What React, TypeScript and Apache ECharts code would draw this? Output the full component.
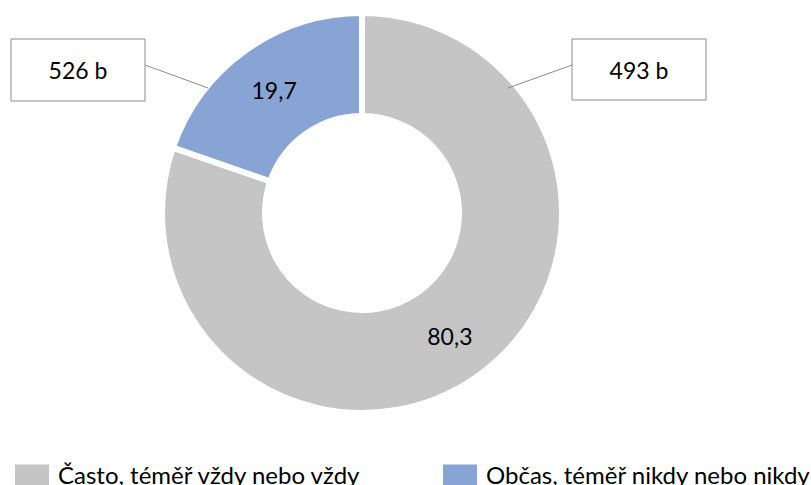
import React, { useEffect, useRef } from "react";
import * as echarts from "echarts";

const categories = ["Často, téměř vždy nebo vždy", "Občas, téměř nikdy nebo nikdy"];
const values = [80.3, 19.7];
const calloutTexts = ["493 b", "526 b"];
const colors = ["#C5C5C5", "#87A4D5"];

const FONT = "Lato, 'Open Sans', sans-serif";

export default function App() {
  const ref = useRef<HTMLDivElement>(null);
  useEffect(() => {
    if (!ref.current) return;
    const chart = echarts.init(ref.current, undefined, { renderer: "svg" });
    const fmt = (v: number) => String(v).replace(".", ",");
    const box = (x: number, y: number, w: number, h: number, text: string) => [
      {
        type: "rect",
        shape: { x, y, width: w, height: h },
        style: { fill: "#fff", stroke: "#8a8a8a", lineWidth: 1 },
        z: 10,
      },
      {
        type: "text",
        x: x + w / 2,
        y: y + h / 2,
        style: {
          text,
          fill: "#000",
          font: `23px ${FONT}`,
          align: "center",
          verticalAlign: "middle",
        },
        z: 11,
      },
    ];
    const legendText = {
      fontSize: 24,
      fontFamily: FONT,
      color: "#000",
      padding: [0, 0, 0, 3],
      rich: {
        a: {
          fontSize: 24,
          fontFamily: FONT,
          color: "#000",
          padding: [0, 0, 15, 0],
        },
      },
    };
    chart.setOption({
      animation: false,
      backgroundColor: "#fff",
      legend: [
        {
          data: [categories[0]],
          left: 8,
          top: 457,
          itemWidth: 36,
          itemHeight: 36,
          icon: "rect",
          formatter: (n: string) => `{a|${n}}`,
          textStyle: legendText,
        },
        {
          data: [categories[1]],
          left: 436,
          top: 457,
          itemWidth: 36,
          itemHeight: 36,
          icon: "rect",
          formatter: (n: string) => `{a|${n}}`,
          textStyle: legendText,
        },
      ],
      graphic: [
        { type: "line", shape: { x1: 572, y1: 65, x2: 508, y2: 88 }, style: { stroke: "#8a8a8a", lineWidth: 1 }, z: 10 },
        { type: "line", shape: { x1: 145, y1: 65, x2: 208, y2: 88 }, style: { stroke: "#8a8a8a", lineWidth: 1 }, z: 10 },
        ...box(572, 39, 134, 61, calloutTexts[0]),
        ...box(11, 39, 134, 62, calloutTexts[1]),
      ],
      series: [
        {
          type: "pie",
          center: [362, 213],
          radius: [97, 200],
          startAngle: 90,
          clockwise: true,
          silent: true,
          itemStyle: { borderColor: "#fff", borderWidth: 6 },
          label: {
            show: true,
            position: "inside",
            formatter: (p: any) => fmt(p.value),
            fontSize: 23,
            fontFamily: FONT,
            color: "#000",
          },
          labelLine: { show: false },
          data: categories.map((name, i) => ({
            name,
            value: values[i],
            itemStyle: { color: colors[i] },
          })),
        },
      ],
    });
    return () => chart.dispose();
  }, []);
  return (
    <div
      ref={ref}
      style={{ position: "fixed", left: 0, top: 0, width: 811, height: 485 }}
    />
  );
}
